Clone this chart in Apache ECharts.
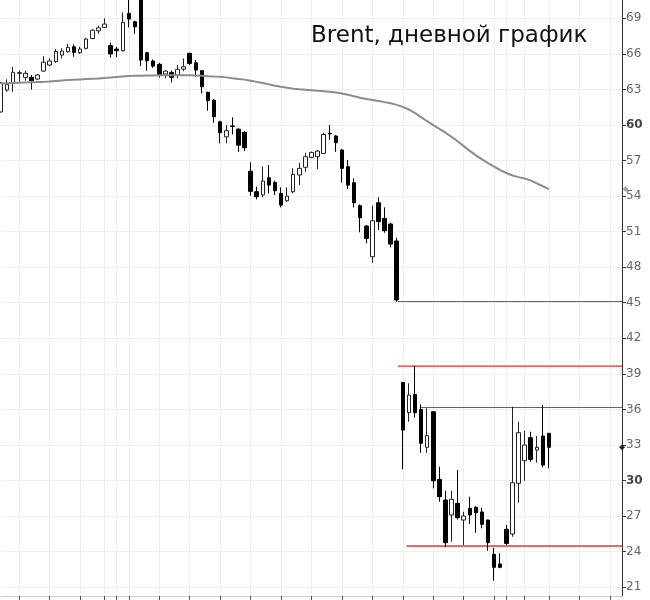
<!DOCTYPE html>
<html><head><meta charset="utf-8">
<script src="https://cdn.jsdelivr.net/npm/echarts@6/dist/echarts.min.js"></script>
<style>html,body{margin:0;padding:0;background:#fff}#c{width:650px;height:600px}</style>
</head><body><div id="c"></div>
<script>
// daily candles [open, close, low, high]
const candles = [
[61.10,63.54,61.05,63.60],[62.95,63.43,62.80,63.85],[63.50,64.45,62.80,64.90],[64.36,64.42,63.65,64.60],
[64.02,64.36,63.73,64.58],[64.02,63.73,63.00,64.22],[63.88,64.22,63.80,64.30],[64.55,65.30,64.50,65.80],
[65.06,65.40,64.97,65.62],[65.35,66.20,65.25,66.40],[65.90,66.24,65.62,66.47],[66.18,66.55,66.10,66.83],
[66.60,66.13,65.76,66.80],[66.10,66.41,65.99,66.60],[66.47,67.25,66.38,67.36],[67.30,68.00,67.23,68.07],
[67.95,68.20,67.70,68.38],[68.24,68.52,68.18,69.00],[66.70,66.00,65.68,66.97],[66.41,66.27,65.73,66.60],
[66.27,68.66,66.20,69.50],[69.42,68.94,68.24,71.00],[68.71,68.29,67.70,68.80],[71.00,65.48,64.97,71.20],
[66.10,65.42,64.58,66.18],[65.40,64.97,64.83,65.54],[65.12,64.22,64.00,65.25],[64.30,64.55,63.94,64.64],
[64.44,64.02,63.60,64.58],[64.22,64.70,63.94,65.06],[64.72,64.92,64.55,65.62],[66.05,65.20,65.06,66.10],
[65.25,64.64,64.07,65.48],[64.58,63.23,62.67,64.64],[62.76,62.05,61.20,62.81],[62.10,60.70,60.19,62.19],
[60.27,59.35,58.45,60.36],[59.00,59.52,58.45,60.00],[59.92,59.88,59.20,60.65],[59.65,58.30,57.74,59.72],
[59.38,58.08,57.80,59.50],[56.10,54.40,54.03,56.85],[54.37,53.95,53.73,54.79],[54.10,55.27,53.90,56.50],
[55.55,54.93,54.23,56.62],[55.16,54.45,54.09,55.30],[54.23,53.24,53.05,54.74],[53.61,54.00,53.52,54.74],
[54.37,55.84,54.23,56.34],[55.78,56.34,54.93,56.81],[56.43,57.32,56.05,57.66],[57.27,57.69,57.20,57.75],
[57.32,57.80,56.28,57.89],[57.60,59.20,57.55,59.35],[59.30,59.25,58.75,60.00],[59.07,58.50,57.74,59.15],
[57.89,56.34,55.13,57.97],[56.48,54.93,54.60,57.04],[55.13,53.44,53.05,55.50],[53.19,52.17,50.94,53.30],
[51.47,50.43,50.01,51.56],[48.88,51.92,48.38,53.19],[53.44,51.84,51.13,53.90],[52.12,51.08,50.91,53.05],
[51.64,49.95,49.67,51.75],[50.21,45.23,45.08,50.49],[38.28,34.26,30.94,38.30],[35.72,37.21,34.96,38.20],
[37.26,35.72,35.30,39.66],[36.00,33.14,32.34,36.43],[32.80,33.78,32.34,36.10],[35.80,29.98,29.34,35.85],
[30.09,28.63,28.21,31.16],[28.35,24.75,24.36,29.13],[27.09,28.41,24.83,29.13],[28.07,26.86,26.72,30.88],
[26.66,27.00,24.55,27.36],[27.65,27.09,26.32,28.63],[27.73,27.28,25.59,27.84],[27.34,26.30,25.96,27.70],
[26.66,24.75,24.07,26.70],[23.77,22.67,21.54,24.32],[22.95,22.67,22.60,23.85],[25.88,24.69,24.55,26.24],
[25.48,29.81,25.25,36.22],[29.76,34.03,28.12,34.96],[31.67,32.99,29.98,34.20],[33.61,31.78,31.58,34.11],
[32.57,32.80,31.50,33.75],[33.75,31.30,31.11,36.37],[33.98,32.80,31.03,34.00]
];
// moving average
const ma = [
63.50,63.52,63.54,63.56,63.58,63.60,63.62,63.64,63.67,63.71,63.75,63.79,63.82,63.85,63.88,63.91,
63.93,63.97,64.01,64.05,64.09,64.13,64.15,64.16,64.17,64.18,64.19,64.19,64.19,64.19,64.19,64.19,
64.18,64.16,64.12,64.09,64.07,64.02,63.95,63.89,63.83,63.74,63.64,63.54,63.43,63.32,63.22,63.14,
63.07,63.02,62.98,62.94,62.89,62.85,62.80,62.74,62.66,62.55,62.42,62.30,62.20,62.11,62.02,61.93,
61.83,61.70,61.53,61.31,61.01,60.66,60.32,59.99,59.67,59.35,59.00,58.63,58.22,57.82,57.44,57.10,
56.78,56.48,56.20,55.95,55.74,55.60,55.48,55.33,55.07,54.83,54.59
];
// horizontal levels: [start (candle index), price]
const levelLines = [[65.2,45.1],[65.2,39.65],[68.9,36.16],[66.6,24.47]];
const yTicks = [21,24,27,30,33,36,39,42,45,48,51,54,57,60,63,66,69];
const boldTicks = [30,60];
const xTickIdx = [3,8,13,17,19,21,26,31,36,41,46,51,56,61,66,71,76,81,83,86,90,95,100];
const nSlots = 103;
const titleText = 'Brent, дневной график';

const categories = Array.from({length:nSlots},(_,i)=>String(i));
const tickSet = new Set(xTickIdx);
const lastIdx = nSlots-1;
const levelStyles = [
  {color:'#e02828',width:1},
  {color:'#f06464',width:1.8},
  {color:'#e02828',width:1},
  {color:'#f06464',width:1.8}
];

const chart = echarts.init(document.getElementById('c'));
const series = [
  {type:'candlestick', data:candles, barWidth:4, clip:true, silent:true,
   itemStyle:{color:'#ffffff',color0:'#000000',borderColor:'#222222',borderColor0:'#000000',borderWidth:1}},
  {type:'line', data:ma, showSymbol:false, silent:true, lineStyle:{color:'#8c8c8c',width:2}}
];
levelLines.forEach((l,k)=>{
  series.push({type:'line', xAxisIndex:1, data:[[l[0],l[1]],[lastIdx,l[1]]], showSymbol:false, silent:true,
    lineStyle:{color:levelStyles[k].color,width:levelStyles[k].width}, z:1});
});
series.push({type:'scatter', xAxisIndex:1, clip:false, silent:true, symbol:'diamond', symbolSize:6,
  data:[{value:[lastIdx+0.6, ma[ma.length-1]], itemStyle:{color:'#8c8c8c'}},
        {value:[lastIdx, candles[candles.length-1][1]], itemStyle:{color:'#000'}}], z:10});

chart.setOption({
  animation:false,
  backgroundColor:'#ffffff',
  title:{text:titleText,left:306,top:20,textStyle:{fontFamily:'DejaVu Sans',fontSize:23,fontWeight:'normal',color:'#111'}},
  grid:{left:1,right:28,top:0,bottom:4,outerBoundsMode:'none'},
  xAxis:[
    {type:'category',data:categories,boundaryGap:false,
     axisLine:{onZero:false,lineStyle:{color:'#cccccc'}},
     axisTick:{show:true,interval:(i)=>tickSet.has(i),length:4,lineStyle:{color:'#555'}},
     axisLabel:{show:false},
     splitLine:{show:true,interval:(i)=>tickSet.has(i),lineStyle:{color:'#efefef'}}},
    {type:'value',min:0,max:lastIdx,show:false}
  ],
  yAxis:{type:'value',position:'right',min:20.25,max:70.55,
    axisLine:{show:true,onZero:false,lineStyle:{color:'#333'}},
    axisTick:{show:true,customValues:yTicks,length:4,lineStyle:{color:'#333'}},
    axisLabel:{customValues:yTicks,margin:4,fontFamily:'DejaVu Sans',fontSize:12,color:'#666',
      formatter:(v)=>boldTicks.includes(v)?'{b|'+v+'}':'{n|'+v+'}',
      rich:{b:{fontWeight:'bold',color:'#444',fontSize:12,fontFamily:'DejaVu Sans'},n:{color:'#666',fontSize:12,fontFamily:'DejaVu Sans'}}},
    splitLine:{show:true,lineStyle:{color:'#efefef'}}},
  series:series
});
</script></body></html>
